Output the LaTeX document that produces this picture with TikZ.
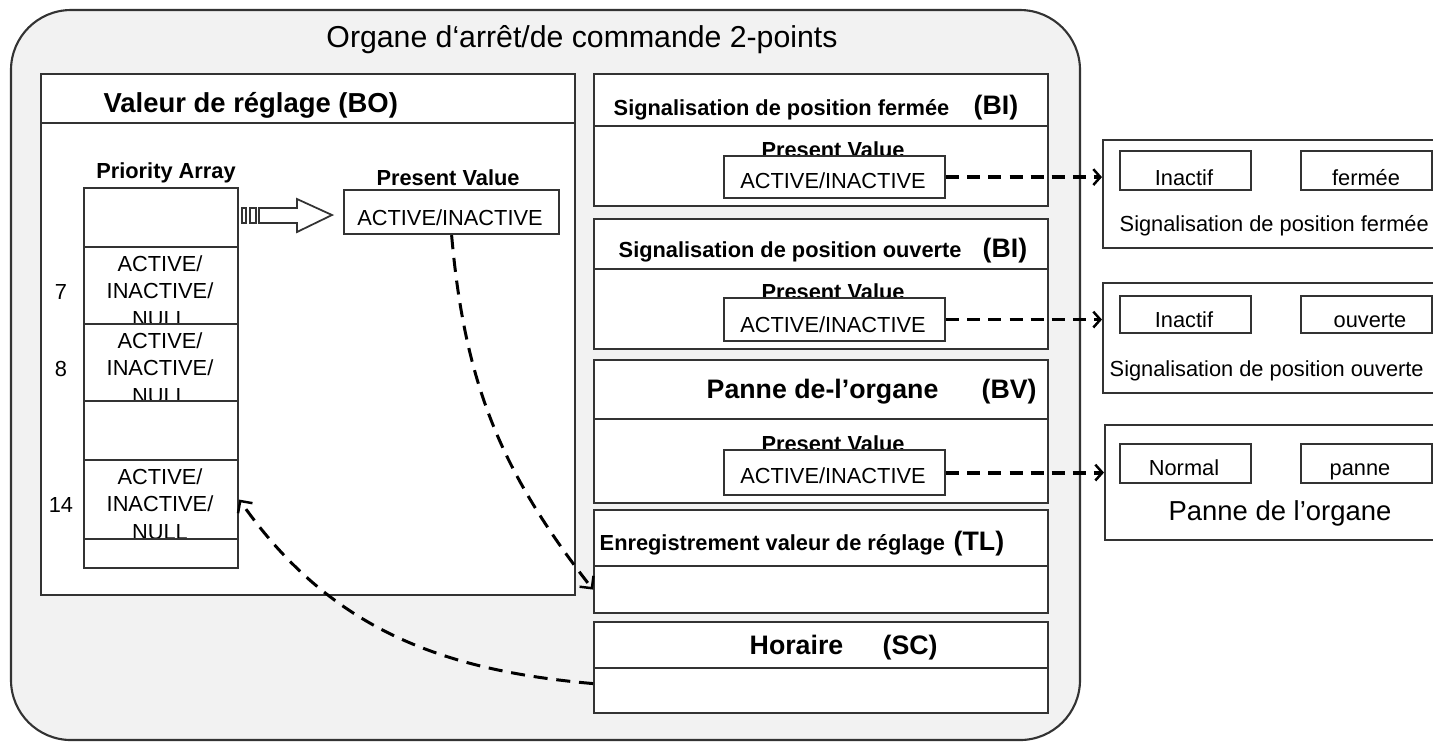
\documentclass[tikz,border=0pt]{standalone}
\usepackage{fontspec}
\setmainfont{Liberation Sans}
\usetikzlibrary{arrows.meta}

\tikzset{
  box/.style={draw=black!80, fill=white, line width=0.6pt, inner sep=0pt, anchor=north west},
  ttl/.style={font=\fontsize{8.6}{10}\selectfont, anchor=base, inner sep=0pt},
  hd/.style={font=\bfseries\fontsize{6.2}{7.4}\selectfont, anchor=base west, inner sep=0pt},
  big/.style={font=\bfseries\fontsize{7.6}{9}\selectfont, anchor=base west, inner sep=0pt},
  lbl/.style={font=\bfseries\fontsize{6.2}{7.4}\selectfont, anchor=base, inner sep=0pt},
  val/.style={font=\fontsize{6.2}{7.4}\selectfont, anchor=base, inner sep=0pt},
  link/.style={dash pattern=on 3.7pt off 2.3pt, line width=1.1pt,
    -{Straight Barb[length=2pt,width=4.5pt,line width=0.7pt]}},
  curvelink/.style={dash pattern=on 4pt off 2.5pt, line width=0.85pt,
    -{Straight Barb[length=2.5pt,width=5pt,line width=0.7pt]}}
}

\begin{document}
\begin{tikzpicture}[x=0.01cm, y=-0.01cm]
  \useasboundingbox (0,0) rectangle (1433,741);

  % the whole object
  \draw[black!80, line width=0.6pt, fill=black!5, rounded corners=0.6cm] (11,10) rectangle (1080,740);
  \node[ttl] (title) at (582,47) {Organe d‘arrêt/de commande 2-points};

  % binary output
  \node[box, minimum width=5.34cm, minimum height=0.49cm] (bohdr) at (40,73) {};
  \node[box, minimum width=5.34cm, minimum height=4.72cm] (bobody) at (40,122) {};
  \node[big, font=\bfseries\fontsize{7.8}{9}\selectfont] (botxt) at (103,112) {Valeur de réglage (BO)};

  \node[lbl] (prio) at (166,178) {Priority Array};
  \foreach \t/\b/\n [count=\i] in {187/246/0, 246/323/7, 323/400/8, 400/459/0, 459/538/14, 538/567/0}{
    \node[box, minimum width=1.54cm, minimum height={(\b-\t)*0.01cm}] (c\i) at (83,\t) {};
    \ifnum\n>0
      \node[val] (ca\i) at (160,\t+25) {ACTIVE/};
      \node[val] (cb\i) at (160,\t+52) {INACTIVE/};
      \node[val] (cc\i) at (160,\t+80) {NULL};
      \node[val] (cn\i) at (61,\t+53) {\n};
    \fi
  }

  % hollow arrow
  \draw[black!80, line width=0.5pt, fill=white] (242,208) rectangle (246,223)
        (250,208) rectangle (256,223);
  \draw[black!80, line width=0.5pt, fill=white] (259,208) -- (297,208) -- (297,199) -- (332,215)
        -- (297,232) -- (297,223) -- (259,223) -- cycle;

  \node[lbl] (pvbolbl) at (448,185) {Present Value};
  \node[box, minimum width=2.15cm, minimum height=0.44cm] (pvbo) at (343,189) {};
  \node[val] (pvbotxt) at (450,225) {ACTIVE/INACTIVE};

  % binary inputs and value
  \node[box, minimum width=4.54cm, minimum height=0.52cm] (hdr1) at (593,73) {};
  \node[box, minimum width=4.54cm, minimum height=0.80cm] (body1) at (593,125) {};
  \node[hd] (h1txt) at (613,115) {Signalisation de position fermée};
  \node[big] (h1tag) at (973,114) {(BI)};
  \node[lbl] (pv1lbl) at (833,157) {Present Value};
  \node[box, minimum width=2.21cm, minimum height=0.42cm] (pv1) at (723,155) {};
  \node[val] (pv1txt) at (833,188) {ACTIVE/INACTIVE};

  \node[box, minimum width=4.54cm, minimum height=0.50cm] (hdr2) at (593,218) {};
  \node[box, minimum width=4.54cm, minimum height=0.80cm] (body2) at (593,268) {};
  \node[hd] (h2txt) at (618,257) {Signalisation de position ouverte};
  \node[big] (h2tag) at (982,257) {(BI)};
  \node[lbl] (pv2lbl) at (833,299) {Present Value};
  \node[box, minimum width=2.21cm, minimum height=0.43cm] (pv2) at (723,297) {};
  \node[val] (pv2txt) at (833,332) {ACTIVE/INACTIVE};

  \node[box, minimum width=4.54cm, minimum height=0.59cm] (hdr3) at (593,359) {};
  \node[box, minimum width=4.54cm, minimum height=0.84cm] (body3) at (593,418) {};
  \node[big] (h3txt) at (706,398) {Panne de-l’organe};
  \node[big] (h3tag) at (981,398) {(BV)};
  \node[lbl] (pv3lbl) at (833,451) {Present Value};
  \node[box, minimum width=2.21cm, minimum height=0.45cm] (pv3) at (723,449) {};
  \node[val] (pv3txt) at (833,483) {ACTIVE/INACTIVE};

  % trend log and schedule
  \node[box, minimum width=4.54cm, minimum height=0.56cm] (hdr4) at (593,509) {};
  \node[box, minimum width=4.54cm, minimum height=0.47cm] (body4) at (593,565) {};
  \node[hd] (h4txt) at (599,550) {Enregistrement valeur de réglage};
  \node[big] (h4tag) at (953,550) {(TL)};

  \node[box, minimum width=4.54cm, minimum height=0.46cm] (hdr5) at (593,621) {};
  \node[box, minimum width=4.54cm, minimum height=0.45cm] (body5) at (593,667) {};
  \node[big] (h5txt) at (749,654) {Horaire};
  \node[big] (h5tag) at (882,654) {(SC)};

  % displays on the right
  \node[box, minimum width=3.40cm, minimum height=1.08cm] (sig1) at (1102,139) {};
  \node[box, minimum width=1.31cm, minimum height=0.39cm] (in1) at (1119,150) {};
  \node[box, minimum width=1.31cm, minimum height=0.39cm] (st1) at (1300,150) {};
  \node[val] (in1txt) at (1184,185) {Inactif};
  \node[val] (st1txt) at (1366,185) {fermée};
  \node[val, anchor=base west] (sig1txt) at (1119,231) {Signalisation de position fermée};

  \node[box, minimum width=3.40cm, minimum height=1.10cm] (sig2) at (1102,282) {};
  \node[box, minimum width=1.31cm, minimum height=0.37cm] (in2) at (1119,295) {};
  \node[box, minimum width=1.31cm, minimum height=0.37cm] (st2) at (1300,295) {};
  \node[val] (in2txt) at (1184,327) {Inactif};
  \node[val] (st2txt) at (1370,327) {ouverte};
  \node[val, anchor=base west] (sig2txt) at (1109,376) {Signalisation de position ouverte};

  \node[box, minimum width=3.40cm, minimum height=1.15cm] (sig3) at (1104,424) {};
  \node[box, minimum width=1.31cm, minimum height=0.39cm] (in3) at (1119,443) {};
  \node[box, minimum width=1.31cm, minimum height=0.39cm] (st3) at (1300,443) {};
  \node[val] (in3txt) at (1184,475) {Normal};
  \node[val] (st3txt) at (1360,475) {panne};
  \node[val, font=\fontsize{7.8}{9}\selectfont] (sig3txt) at (1280,520) {Panne de l’organe};

  % links
  \draw[link] (pv1.east) -- (pv1.east -| sig1.west);
  \draw[link, line width=0.75pt] (pv2.east) -- (pv2.east -| sig2.west);
  \draw[link] (pv3.east) -- (pv3.east -| sig3.west);
  \draw[curvelink] (pvbo.south) to[out=-85, in=128] (body4.west);
  \draw[curvelink] ([yshift=0.07cm]body5.west) to[out=175, in=-55] (c5.east);
\end{tikzpicture}
\end{document}
